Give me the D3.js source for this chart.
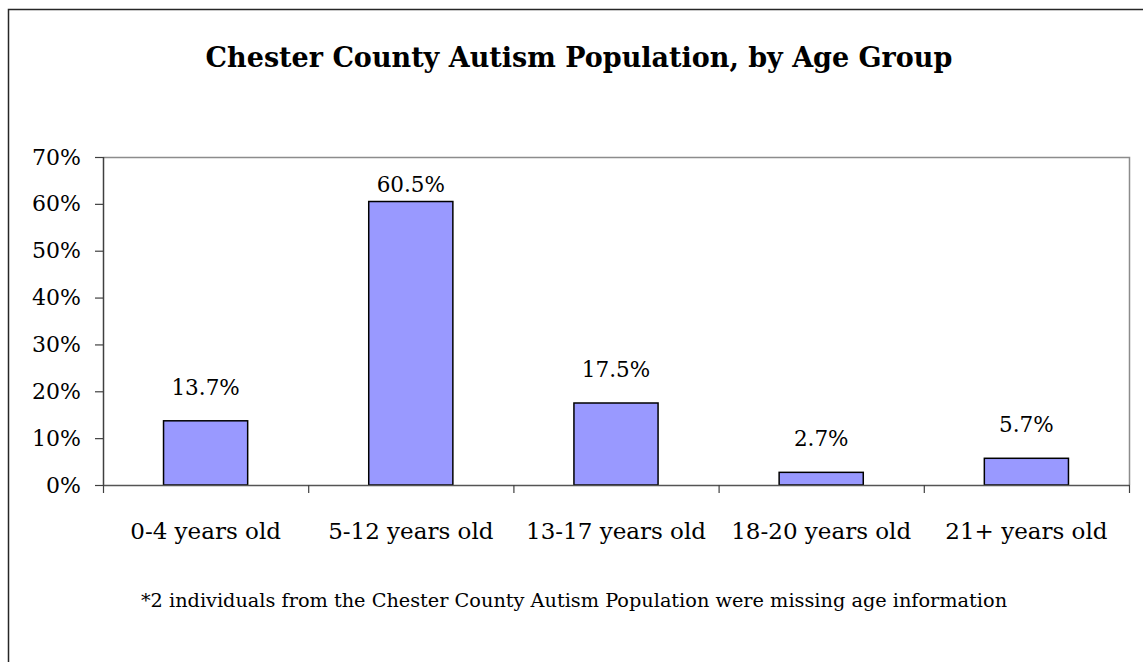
<!DOCTYPE html>
<html>
<head>
<meta charset="utf-8">
<script src="https://cdn.jsdelivr.net/npm/d3@7"></script>
<style>
  html, body { margin: 0; padding: 0; background: #fff; }
  svg { display: block; }
</style>
</head>
<body>
<div id="chart"></div>
<script>
const categories = ["0-4 years old", "5-12 years old", "13-17 years old", "18-20 years old", "21+ years old"];
const values = [13.7, 60.5, 17.5, 2.7, 5.7];
const valueLabels = ["13.7%", "60.5%", "17.5%", "2.7%", "5.7%"];
const yTicks = [0, 10, 20, 30, 40, 50, 60, 70];
const titleText = "Chester County Autism Population, by Age Group";
const footnoteText = "*2 individuals from the Chester County Autism Population were missing age information";

const W = 1143, H = 662;
const FONT = "'DejaVu Serif', 'Liberation Serif', serif";
const plot = { left: 103, right: 1129, top: 157, bottom: 485 };

const svg = d3.select("#chart").append("svg")
  .attr("width", W).attr("height", H);

svg.append("rect").attr("width", W).attr("height", H).attr("fill", "#fff");

// outer chart frame
svg.append("rect")
  .attr("x", 8.5).attr("y", 9.5)
  .attr("width", W + 20).attr("height", H + 20)
  .attr("fill", "none").attr("stroke", "#262626").attr("stroke-width", 1.5);

// title
svg.append("text")
  .attr("x", 579).attr("y", 67)
  .attr("text-anchor", "middle")
  .attr("font-family", FONT).attr("font-weight", "bold")
  .attr("font-size", 27)
  .attr("fill", "#000")
  .text(titleText);

const x = d3.scaleBand().domain(categories)
  .range([plot.left, plot.right])
  .paddingInner(0.59).paddingOuter(0.295);

const y = d3.scaleLinear().domain([0, 70]).range([plot.bottom, plot.top]);

// plot area border (top & right)
svg.append("path")
  .attr("d", `M${plot.left},${plot.top + 0.5}H${plot.right + 0.5}V${plot.bottom}`)
  .attr("fill", "none").attr("stroke", "#8c8c8c").attr("stroke-width", 1.5);

// bars
svg.append("g").selectAll("rect").data(values).join("rect")
  .attr("x", (d, i) => x(categories[i]))
  .attr("y", d => y(d))
  .attr("width", x.bandwidth())
  .attr("height", d => y(0) - y(d))
  .attr("fill", "#9999FF")
  .attr("stroke", "#000").attr("stroke-width", 1.5);

// value labels (kept inside the plot area near the top)
svg.append("g").selectAll("text").data(values).join("text")
  .attr("x", (d, i) => x(categories[i]) + x.bandwidth() / 2)
  .attr("y", d => Math.max(y(d) - 26, plot.top + 35))
  .attr("text-anchor", "middle")
  .attr("font-family", FONT).attr("font-size", 21.5)
  .attr("fill", "#000")
  .text((d, i) => valueLabels[i]);

// y axis
const yAxis = d3.axisLeft(y).tickValues(yTicks).tickFormat(d => d + "%")
  .tickSize(8).tickPadding(14);
const gy = svg.append("g").attr("transform", `translate(${plot.left},0)`).call(yAxis);
gy.select(".domain").attr("stroke", "#404040").attr("stroke-width", 1.5)
  .attr("d", `M0.5,${plot.top}V${plot.bottom}`);
gy.selectAll(".tick line").attr("stroke", "#404040").attr("stroke-width", 1.2);
gy.selectAll(".tick text").attr("font-family", FONT).attr("font-size", 22).attr("fill", "#000");

// x axis
const xAxis = d3.axisBottom(x).tickSize(0).tickPadding(0);
const gx = svg.append("g").attr("transform", `translate(0,${plot.bottom})`).call(xAxis);
gx.select(".domain").attr("stroke", "#555").attr("stroke-width", 1.5)
  .attr("d", `M${plot.left},0.5H${plot.right + 1}`);
gx.selectAll(".tick text")
  .attr("y", 54).attr("dy", 0)
  .attr("font-family", FONT).attr("font-size", 23).attr("fill", "#000");
// category boundary ticks
const boundaries = d3.range(categories.length + 1).map(i => plot.left + i * x.step());
gx.selectAll(".bound").data(boundaries).join("line")
  .attr("class", "bound")
  .attr("x1", d => d + 0.5).attr("x2", d => d + 0.5)
  .attr("y1", 0).attr("y2", 8)
  .attr("stroke", "#404040").attr("stroke-width", 1.2);

// footnote
svg.append("text")
  .attr("x", 574).attr("y", 607)
  .attr("text-anchor", "middle")
  .attr("font-family", FONT).attr("font-size", 19.3)
  .attr("fill", "#000")
  .text(footnoteText);
</script>
</body>
</html>
